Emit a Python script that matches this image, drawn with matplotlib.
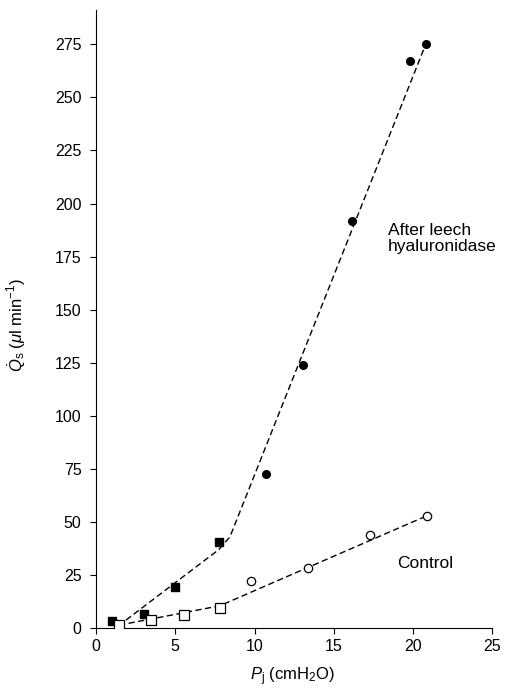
import matplotlib
matplotlib.use("Agg")
import matplotlib.pyplot as plt

# Données
after_sq_x = [1.0, 3.0, 5.0, 7.75]
after_sq_y = [3.5, 6.5, 19.5, 40.5]
after_ci_x = [10.75, 13.05, 16.15, 19.8, 20.8]
after_ci_y = [72.5, 124, 192, 267, 275]
after_fit_x = [1.4, 7.75, 8.45, 20.8]
after_fit_y = [1.0, 37.0, 43.0, 275]

ctrl_sq_x = [1.45, 3.45, 5.55, 7.8]
ctrl_sq_y = [1.4, 4.0, 6.0, 9.3]
ctrl_ci_x = [9.75, 13.35, 17.3, 20.9]
ctrl_ci_y = [22.4, 28.4, 43.8, 53.0]
ctrl_fit_x = [1.45, 7.8, 20.9]
ctrl_fit_y = [1.4, 10.5, 53.0]

xticks = [0, 5, 10, 15, 20, 25]
yticks = [0, 25, 50, 75, 100, 125, 150, 175, 200, 225, 250, 275]

plt.rcParams["font.family"] = ["Liberation Sans", "DejaVu Sans"]
plt.rcParams["mathtext.fontset"] = "custom"
plt.rcParams["mathtext.rm"] = "Liberation Sans"
plt.rcParams["mathtext.it"] = "Liberation Sans:italic"
plt.rcParams["mathtext.bf"] = "Liberation Sans:bold"

fig = plt.figure(figsize=(5.08, 6.91), dpi=100)
ax = fig.add_axes([0.189, 0.091, 0.78, 0.894])

dash = (4.5, 2.5)
ax.plot(after_fit_x, after_fit_y, color="black", lw=1.0, dashes=dash, zorder=1)
ax.plot(ctrl_fit_x, ctrl_fit_y, color="black", lw=1.0, dashes=dash, zorder=1)

ax.plot(after_sq_x, after_sq_y, "s", color="black", ms=6, zorder=3)
ax.plot(after_ci_x, after_ci_y, "o", color="black", ms=5.5, zorder=3)
ax.plot(ctrl_sq_x, ctrl_sq_y, "s", mfc="white", mec="black", mew=0.9, ms=6.5, zorder=3)
ax.plot(ctrl_ci_x, ctrl_ci_y, "o", mfc="white", mec="black", mew=0.9, ms=6, zorder=3)

ax.text(18.4, 183.5, "After leech\nhyaluronidase", fontsize=12.5, ha="left", va="center",
        linespacing=1.1)
ax.text(19.0, 30.5, "Control", fontsize=12.5, ha="left", va="center")

ax.set_xlim(0, 25)
ax.set_ylim(0, 291)
ax.set_xticks(xticks)
ax.set_yticks(yticks)
ax.spines["top"].set_visible(False)
ax.spines["right"].set_visible(False)
ax.tick_params(direction="out", width=0.8, labelsize=11.5)
ax.tick_params(axis="y", length=4.5, pad=6)
ax.tick_params(axis="x", length=4, pad=4)

ax.set_xlabel(r"$P_{\rm j}$ (cmH$_2$O)", fontsize=12)
ax.xaxis.set_label_coords(0.495, -0.061)
ax.set_ylabel(r"$\dot{Q}_{\rm s}$ ($\mu$l min$^{-1}$)", fontsize=12)
ax.yaxis.set_label_coords(-0.172, 0.49)

fig.savefig("out.png", dpi=100)
